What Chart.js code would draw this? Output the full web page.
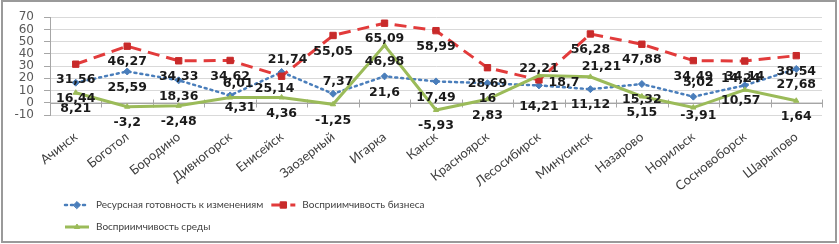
<!DOCTYPE html>
<html>
<head>
<meta charset="utf-8">
<script src="https://cdn.jsdelivr.net/npm/chart.js@4.4.1/dist/chart.umd.min.js"></script>
<style>
  html, body { margin: 0; padding: 0; background: #fff; }
  .chart-box { position: relative; width: 839px; height: 244px; }
</style>
</head>
<body>
<div class="chart-box"><canvas id="chart"></canvas></div>
<script>
// --- data ---
const categories = ['Ачинск', 'Боготол', 'Бородино', 'Дивногорск', 'Енисейск', 'Заозерный', 'Игарка', 'Канск',
  'Красноярск', 'Лесосибирск', 'Минусинск', 'Назарово', 'Норильск', 'Сосновоборск', 'Шарыпово'];
const resourceReadiness = [16.44, 25.59, 18.36, 6.01, 25.14, 7.37, 21.6, 17.49, 16, 14.21, 11.12, 15.32, 5.02, 14.24, 27.68];
const businessReceptivity = [31.56, 46.27, 34.33, 34.62, 21.74, 55.05, 65.09, 58.99, 28.69, 18.7, 56.28, 47.88, 34.49, 34.14, 38.54];
const environmentReceptivity = [8.21, -3.2, -2.48, 4.31, 4.36, -1.25, 46.98, -5.93, 2.83, 22.21, 21.21, 5.15, -3.91, 10.57, 1.64];
const seriesNames = ['Ресурсная готовность к изменениям', 'Восприимчивость бизнеса', 'Восприимчивость среды'];
const yTicks = [-10, 0, 10, 20, 30, 40, 50, 60, 70];

// labels that were dragged away from the default "below" spot (dataset:index -> [dx, dy])
const labelNudges = {
  '0:3': [8, -12], '2:3': [10, 10],
  '1:4': [6, -16], '0:4': [-7, 17],
  '0:5': [5, -12],
  '2:9': [0, -7], '1:9': [25, 3], '0:9': [0, 21],
  '2:10': [11, -10],
  '0:12': [5, -14], '2:12': [5, 8],
  '0:13': [-4, -7], '2:13': [-4, 11]
};

const fmt = v => String(v).replace('.', ',');

// frame + white background
const framePlugin = {
  id: 'frame',
  beforeDraw(chart) {
    const c = chart.ctx;
    c.save();
    c.fillStyle = '#fff';
    c.fillRect(0, 0, chart.width, chart.height);
    c.strokeStyle = '#9a9a9a';
    c.lineWidth = 2;
    c.strokeRect(2, 1, chart.width - 5, chart.height - 3);
    c.restore();
  }
};

// category axis crosses at 0 with tick marks between categories
const zeroAxisPlugin = {
  id: 'zeroAxis',
  beforeDatasetsDraw(chart) {
    const x = chart.scales.x, y = chart.scales.y, c = chart.ctx;
    const y0 = Math.round(y.getPixelForValue(0)) + 0.5;
    c.save();
    c.strokeStyle = '#a6a6a6';
    c.lineWidth = 1;
    c.beginPath();
    c.moveTo(chart.chartArea.left, y0);
    c.lineTo(chart.chartArea.right, y0);
    const n = categories.length;
    for (let i = 0; i <= n; i++) {
      let px;
      if (i === 0) px = chart.chartArea.left;
      else if (i === n) px = chart.chartArea.right;
      else px = (x.getPixelForValue(i - 1) + x.getPixelForValue(i)) / 2;
      px = Math.round(px) + 0.5;
      c.moveTo(px, y0 - 4);
      c.lineTo(px, y0 + 4);
    }
    c.stroke();
    c.restore();
  }
};

// data labels, below each point unless nudged
const labelPlugin = {
  id: 'valueLabels',
  afterDatasetsDraw(chart) {
    const c = chart.ctx;
    c.save();
    c.font = 'bold 12.5px "DejaVu Sans"';
    c.fillStyle = '#1a1a1a';
    c.textAlign = 'center';
    c.textBaseline = 'middle';
    chart.data.datasets.forEach((ds, di) => {
      chart.getDatasetMeta(di).data.forEach((pt, i) => {
        const nd = labelNudges[di + ':' + i] || [0, 16];
        c.fillText(fmt(ds.data[i]), pt.x + nd[0], pt.y + nd[1]);
      });
    });
    c.restore();
  }
};

// excel-like legend: line sample + marker, flowing into two rows
const legendPlugin = {
  id: 'excelLegend',
  afterDraw(chart) {
    const c = chart.ctx;
    c.save();
    c.font = '10px Lato';
    c.textBaseline = 'middle';
    const startX = 65, maxX = 440;
    let x = startX, y = 205;
    chart.data.datasets.forEach(ds => {
      const tw = c.measureText(ds.label).width;
      if (x !== startX && x + 32 + tw > maxX) { x = startX; y += 22; }
      c.strokeStyle = ds.borderColor;
      c.lineWidth = ds.borderWidth;
      c.setLineDash(ds.borderDash || []);
      c.lineCap = ds.borderCapStyle || 'butt';
      c.beginPath();
      c.moveTo(x, y);
      c.lineTo(x + 24, y);
      c.stroke();
      c.setLineDash([]);
      c.fillStyle = ds.pointBackgroundColor;
      c.strokeStyle = ds.pointBorderColor;
      c.lineWidth = 1;
      Chart.helpers.drawPoint(c, { pointStyle: ds.pointStyle, radius: ds.pointRadius, rotation: 0, borderWidth: 1 }, x + 12, y);
      c.fillStyle = '#404040';
      c.fillText(ds.label, x + 31, y);
      x += 31 + tw + 8;
    });
    c.restore();
  }
};

const datasets = [
  {
    label: seriesNames[0],
    data: resourceReadiness,
    borderColor: '#4a7ebb',
    borderWidth: 2.5,
    borderDash: [2, 4],
    borderCapStyle: 'round',
    pointStyle: 'rectRot',
    pointRadius: 3.5,
    pointBackgroundColor: '#4a7ebb',
    pointBorderColor: '#4a7ebb',
    order: 2
  },
  {
    label: seriesNames[1],
    data: businessReceptivity,
    borderColor: '#e23b3b',
    borderWidth: 3,
    borderDash: [12, 7],
    pointStyle: 'rect',
    pointRadius: 4.5,
    pointBackgroundColor: '#c82a2a',
    pointBorderColor: '#c82a2a',
    order: 1
  },
  {
    label: seriesNames[2],
    data: environmentReceptivity,
    borderColor: '#9bbb59',
    borderWidth: 3,
    pointStyle: 'triangle',
    pointRadius: 3,
    pointBackgroundColor: '#9bbb59',
    pointBorderColor: '#9bbb59',
    order: 0
  }
];
datasets.forEach(ds => { ds.tension = 0; ds.fill = false; ds.pointBorderWidth = 1; ds.pointHoverRadius = ds.pointRadius; });

new Chart(document.getElementById('chart'), {
  type: 'line',
  data: { labels: categories, datasets: datasets },
  plugins: [framePlugin, zeroAxisPlugin, labelPlugin, legendPlugin],
  options: {
    responsive: true,
    maintainAspectRatio: false,
    animation: false,
    layout: { padding: { left: 0, right: 17, top: 14, bottom: 49 } },
    plugins: { legend: { display: false }, tooltip: { enabled: false } },
    scales: {
      x: {
        offset: true,
        grid: { display: false },
        border: { display: false },
        ticks: {
          autoSkip: false,
          minRotation: 38,
          maxRotation: 38,
          padding: 6,
          color: '#404040',
          font: { family: 'Lato', size: 13 }
        },
        afterFit(scale) { scale.height = 80; }
      },
      y: {
        min: -10,
        max: 70,
        afterBuildTicks(scale) { scale.ticks = yTicks.map(v => ({ value: v })); },
        grid: {
          color: '#d9d9d9',
          tickColor: '#a6a6a6',
          tickLength: 6
        },
        border: { display: true, color: '#a6a6a6' },
        ticks: {
          autoSkip: false,
          padding: 10,
          color: '#595959',
          font: { family: 'DejaVu Sans', size: 12 }
        },
        afterFit(scale) { scale.width = 50; }
      }
    }
  }
});
</script>
</body>
</html>
